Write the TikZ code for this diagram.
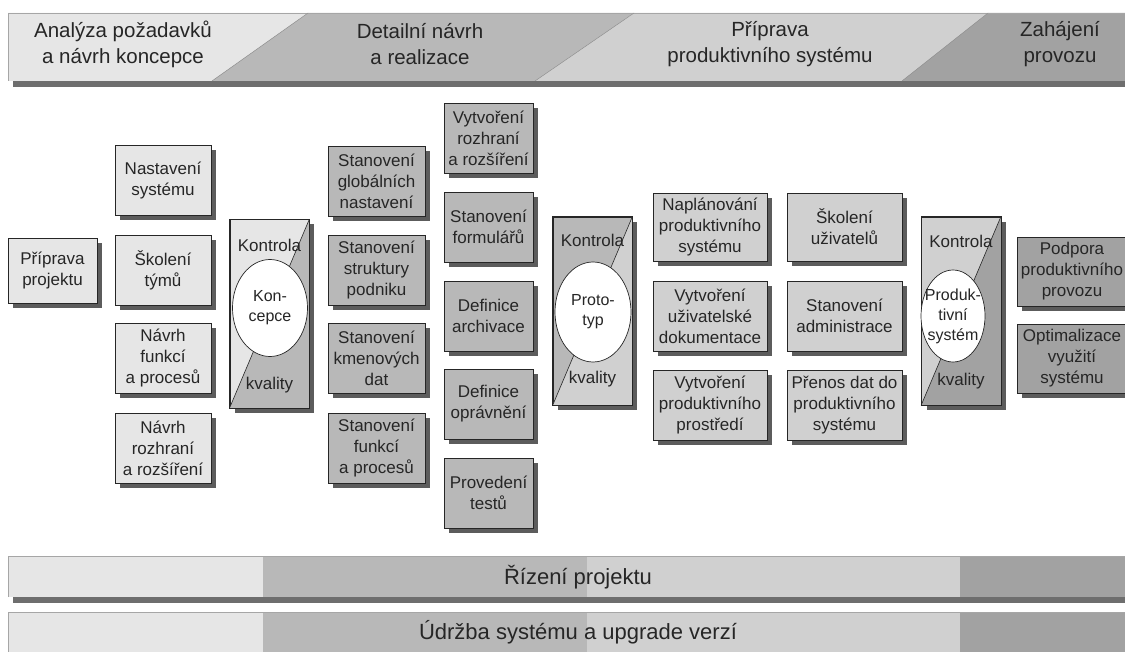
\documentclass[tikz,border=0pt]{standalone}
\usepackage{fontspec}
\setmainfont{Liberation Sans}
\usetikzlibrary{shapes.geometric,shadows}

% phase colours
\definecolor{phaseA}{HTML}{E6E6E6}
\definecolor{phaseB}{HTML}{B8B8B8}
\definecolor{phaseC}{HTML}{D0D0D0}
\definecolor{phaseD}{HTML}{A2A2A2}
\definecolor{barshadow}{HTML}{6E6E6E}
\definecolor{boxshadow}{HTML}{5C5C5C}
\definecolor{ink}{HTML}{262626}

\begin{document}
\begin{tikzpicture}[x=1pt,y=-1pt,
  task/.style={draw=ink, line width=0.8pt, align=center, inner sep=1pt,
    minimum height=70pt, text=ink, font=\fontsize{17}{21}\selectfont,
    drop shadow={shadow xshift=5pt, shadow yshift=-5pt, fill=boxshadow, opacity=1}},
  gate/.style={draw=ink, line width=0.8pt, inner sep=0pt,
    minimum width=79pt, minimum height=188pt,
    drop shadow={shadow xshift=5pt, shadow yshift=-5pt, fill=boxshadow, opacity=1}},
  core/.style={ellipse, draw=ink, line width=0.7pt, fill=white, inner sep=0pt},
  coretext/.style={align=center, inner sep=0pt, text=ink, font=\fontsize{16}{20}\selectfont},
  gatetext/.style={align=center, inner sep=0pt, text=ink, font=\fontsize{17}{21}\selectfont},
  phasetext/.style={align=center, text=ink, font=\fontsize{20.5}{26}\selectfont},
  bandtext/.style={text=ink, font=\fontsize{22}{26}\selectfont}]

\useasboundingbox (0,0) rectangle (1125,652);

% Phase header
\fill[barshadow] (13,19) rectangle (1125,87);
\fill[phaseA] (8,13) -- (308,13) -- (212,81) -- (8,81) -- cycle;
\fill[phaseB] (308,13) -- (634,13) -- (535,81) -- (212,81) -- cycle;
\fill[phaseC] (634,13) -- (988,13) -- (902,81) -- (535,81) -- cycle;
\fill[phaseD] (988,13) -- (1125,13) -- (1125,81) -- (902,81) -- cycle;
\draw[gray!70, line width=0.6pt] (8,81) -- (8,13) -- (1125,13);
\draw[gray!85, line width=0.5pt] (308,13) -- (212,81) (634,13) -- (535,81) (988,13) -- (902,81);
\node[phasetext] (analysis) at (123,44) {Analýza požadavků\\a návrh koncepce};
\node[phasetext] (realize) at (420,44) {Detailní návrh\\a realizace};
\node[phasetext] (preprod) at (770,44) {Příprava\\produktivního systému};
\node[phasetext] (golive) at (1060,44) {Zahájení\\provozu};

% Analysis and concept
\node[task, fill=phaseA, minimum width=89pt, minimum height=65pt] (prep) at (52.5,270.5) {Příprava\\projektu};
\node[task, fill=phaseA, minimum width=96pt] (setup) at (163,180.5) {Nastavení\\systému};
\node[task, fill=phaseA, minimum width=96pt] (teamtrain) at (163,270) {Školení\\týmů};
\node[task, fill=phaseA, minimum width=96pt] (funcdesign) at (163,358) {Návrh\\funkcí\\a procesů};
\node[task, fill=phaseA, minimum width=96pt] (ifacedesign) at (163,448) {Návrh\\rozhraní\\a rozšíření};

% Quality gate: concept
\node[gate, fill=phaseA] (gateA) at (269.5,313.5) {};
\fill[phaseB] (gateA.north east) -- (gateA.south east) -- (gateA.south west) -- cycle;
\draw[ink, line width=0.8pt] (gateA.north west) rectangle (gateA.south east);
\draw[ink, line width=0.6pt] (gateA.north east) -- (gateA.south west);
\node[core, minimum width=75pt, minimum height=97pt] (concept) at (270,308) {};
\node[coretext] (concepttext) at (concept) {Kon-\\cepce};
\node[gatetext] (checkA) at ([yshift=-26pt]gateA.north) {Kontrola};
\node[gatetext] (qualA) at ([yshift=23pt]gateA.south) {kvality};

% Detailed design and realisation
\node[task, fill=phaseB, minimum width=97pt] (globset) at (376.5,181) {Stanovení\\globálních\\nastavení};
\node[task, fill=phaseB, minimum width=97pt] (orgstruct) at (376.5,270) {Stanovení\\struktury\\podniku};
\node[task, fill=phaseB, minimum width=97pt] (masterdata) at (376.5,358) {Stanovení\\kmenových\\dat};
\node[task, fill=phaseB, minimum width=97pt] (funcset) at (376.5,448) {Stanovení\\funkcí\\a procesů};
\node[task, fill=phaseB, minimum width=89pt] (ifacebuild) at (488.5,138.5) {Vytvoření\\rozhraní\\a rozšíření};
\node[task, fill=phaseB, minimum width=89pt] (forms) at (488.5,227) {Stanovení\\formulářů};
\node[task, fill=phaseB, minimum width=89pt] (archive) at (488.5,316) {Definice\\archivace};
\node[task, fill=phaseB, minimum width=89pt] (rights) at (488.5,404) {Definice\\oprávnění};
\node[task, fill=phaseB, minimum width=89pt] (tests) at (488.5,493) {Provedení\\testů};

% Quality gate: prototype
\node[gate, fill=phaseB] (gateB) at (592.5,311) {};
\fill[phaseC] (gateB.north east) -- (gateB.south east) -- (gateB.south west) -- cycle;
\draw[ink, line width=0.8pt] (gateB.north west) rectangle (gateB.south east);
\draw[ink, line width=0.6pt] (gateB.north east) -- (gateB.south west);
\node[core, minimum width=76pt, minimum height=100pt] (proto) at (593,312) {};
\node[coretext] (prototext) at (proto) {Proto-\\typ};
\node[gatetext] (checkB) at ([yshift=-24pt]gateB.north) {Kontrola};
\node[gatetext] (qualB) at ([yshift=26pt]gateB.south) {kvality};

% Preparing the productive system
\node[task, fill=phaseC, minimum width=114pt, minimum height=68pt] (plan) at (710,227) {Naplánování\\produktivního\\systému};
\node[task, fill=phaseC, minimum width=114pt] (userdoc) at (710,316) {Vytvoření\\uživatelské\\dokumentace};
\node[task, fill=phaseC, minimum width=114pt] (prodenv) at (710,405) {Vytvoření\\produktivního\\prostředí};
\node[task, fill=phaseC, minimum width=115pt, minimum height=68pt] (usertrain) at (844.5,227) {Školení\\uživatelů};
\node[task, fill=phaseC, minimum width=115pt] (admin) at (844.5,316) {Stanovení\\administrace};
\node[task, fill=phaseC, minimum width=115pt] (transfer) at (844.5,405) {Přenos dat do\\produktivního\\systému};

% Quality gate: productive system
\node[gate, fill=phaseC] (gateC) at (961,311) {};
\fill[phaseD] (gateC.north east) -- (gateC.south east) -- (gateC.south west) -- cycle;
\draw[ink, line width=0.8pt] (gateC.north west) rectangle (gateC.south east);
\draw[ink, line width=0.6pt] (gateC.north east) -- (gateC.south west);
\node[core, minimum width=64pt, minimum height=92pt] (prodsys) at (953,316) {};
\node[coretext] (prodsystext) at (prodsys) {Produk-\\tivní\\systém};
\node[gatetext] (checkC) at ([yshift=-25pt]gateC.north) {Kontrola};
\node[gatetext] (qualC) at ([yshift=24pt]gateC.south) {kvality};

% Go-live
\node[task, fill=phaseD, minimum width=110pt, minimum height=69pt] (support) at (1072,271.5) {Podpora\\produktivního\\provozu};
\node[task, fill=phaseD, minimum width=110pt, minimum height=69pt] (optimize) at (1072,358.5) {Optimalizace\\využití\\systému};

% Project management band
\fill[barshadow] (13,562) rectangle (1125,603);
\fill[phaseA] (8,556) rectangle (263,597);
\fill[phaseB] (263,556) rectangle (587,597);
\fill[phaseC] (587,556) rectangle (960,597);
\fill[phaseD] (960,556) rectangle (1125,597);
\draw[gray!70, line width=0.6pt] (8,597) -- (8,556) -- (1125,556);
\node[bandtext] (mgmt) at (578,577) {Řízení projektu};

% Maintenance band
\fill[phaseA] (8,612) rectangle (263,652);
\fill[phaseB] (263,612) rectangle (587,652);
\fill[phaseC] (587,612) rectangle (960,652);
\fill[phaseD] (960,612) rectangle (1125,652);
\draw[gray!70, line width=0.6pt] (8,652) -- (8,612) -- (1125,612);
\node[bandtext] (upkeep) at (578,632) {Údržba systému a upgrade verzí};
\end{tikzpicture}
\end{document}
